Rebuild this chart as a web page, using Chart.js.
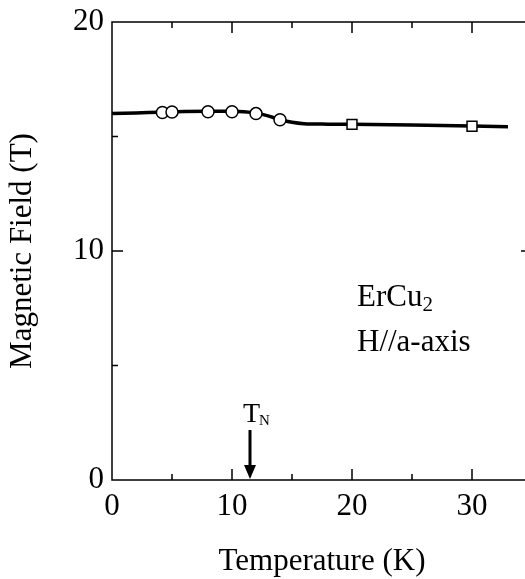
<!DOCTYPE html>
<html>
<head>
<meta charset="utf-8">
<script src="https://cdn.jsdelivr.net/npm/chart.js@4"></script>
<style>
  body { margin: 0; background: #fff; }
  #wrap { width: 525px; height: 579px; overflow: hidden; position: relative; }
  canvas { position: absolute; left: 0; top: 0; }
</style>
</head>
<body>
<div id="wrap"><canvas id="chart" width="545" height="579"></canvas></div>
<script>
// smooth guide curve through the points
const curveT = [0, 2, 4, 6, 8, 10, 11, 12, 13, 14, 15, 16, 18, 20, 25, 30, 33];
const curveH = [16.0, 16.03, 16.06, 16.09, 16.1, 16.1, 16.08, 16.02, 15.9, 15.74, 15.62, 15.56, 15.54, 15.53, 15.5, 15.46, 15.43];
// circles (one measurement), squares (other)
const circleT = [4.2, 5.0, 8.0, 10.0, 12.0, 14.0];
const circleH = [16.05, 16.07, 16.08, 16.08, 16.0, 15.73];
const squareT = [20, 30];
const squareH = [15.53, 15.45];
// axes
const xTickVals = [5, 10, 15, 20, 25, 30];
const yTickVals = [5, 10, 15];
const TN = 11.5;

const FONT = "'Liberation Serif', 'Times New Roman', serif";
Chart.defaults.font.family = FONT;
Chart.defaults.color = '#000';

const pts = (xs, ys) => xs.map((v, i) => ({ x: v, y: ys[i] }));

const frame = {
  id: 'frame',
  beforeDatasetsDraw(chart) {
    const { ctx, chartArea: a, scales: { x, y } } = chart;
    ctx.save();
    ctx.strokeStyle = '#000';
    ctx.lineWidth = 1.5;
    ctx.strokeRect(a.left, a.top, a.right - a.left, a.bottom - a.top);
    ctx.beginPath();
    xTickVals.forEach(v => {
      const len = v % 10 === 0 ? 11 : 6;
      const px = x.getPixelForValue(v);
      ctx.moveTo(px, a.bottom); ctx.lineTo(px, a.bottom - len);
      ctx.moveTo(px, a.top); ctx.lineTo(px, a.top + len);
    });
    yTickVals.forEach(v => {
      const len = v % 10 === 0 ? 11 : 6;
      const py = y.getPixelForValue(v);
      ctx.moveTo(a.left, py); ctx.lineTo(a.left + len, py);
      ctx.moveTo(a.right, py); ctx.lineTo(a.right - len, py);
    });
    ctx.stroke();
    ctx.restore();
  },
  afterDraw(chart) {
    const { ctx, chartArea: a, scales: { x } } = chart;
    ctx.save();
    ctx.fillStyle = '#000';
    ctx.textBaseline = 'alphabetic';
    // sample label
    ctx.font = '31px ' + FONT;
    ctx.fillText('ErCu', a.left + 245, 306);
    const w = ctx.measureText('ErCu').width;
    ctx.font = '21px ' + FONT;
    ctx.fillText('2', a.left + 245 + w, 311);
    ctx.font = '31px ' + FONT;
    ctx.fillText('H//a-axis', a.left + 245, 351);
    // T_N arrow
    const px = x.getPixelForValue(TN);
    ctx.font = '28px ' + FONT;
    ctx.fillText('T', px - 7, 422);
    const tw = ctx.measureText('T').width;
    ctx.font = '15px ' + FONT;
    ctx.fillText('N', px - 7 + tw - 1, 425);
    ctx.strokeStyle = '#000';
    ctx.lineWidth = 3;
    ctx.beginPath();
    ctx.moveTo(px, 430); ctx.lineTo(px, 468);
    ctx.stroke();
    ctx.beginPath();
    ctx.moveTo(px - 6, 465); ctx.lineTo(px + 6, 465); ctx.lineTo(px, a.bottom - 1);
    ctx.closePath();
    ctx.fill();
    ctx.restore();
  }
};

new Chart(document.getElementById('chart').getContext('2d'), {
  type: 'scatter',
  data: {
    datasets: [
      {
        data: pts(circleT, circleH), pointStyle: 'circle', pointRadius: 6,
        backgroundColor: '#fff', borderColor: '#000', borderWidth: 1.5, order: 1
      },
      {
        data: pts(squareT, squareH), pointStyle: 'rect', pointRadius: 7,
        backgroundColor: '#fff', borderColor: '#000', borderWidth: 1.5, order: 1
      },
      {
        data: pts(curveT, curveH), showLine: true, pointRadius: 0,
        borderColor: '#000', borderWidth: 3.5, cubicInterpolationMode: 'monotone', order: 2
      }
    ]
  },
  options: {
    responsive: false,
    animation: false,
    devicePixelRatio: 1,
    layout: { padding: { top: 22, right: 13, bottom: 0, left: 0 } },
    plugins: { legend: { display: false }, tooltip: { enabled: false } },
    scales: {
      x: {
        type: 'linear', min: 0, max: 35,
        ticks: { stepSize: 10, padding: 8, font: { size: 31 }, color: '#000', maxRotation: 0 },
        afterBuildTicks: s => { s.ticks = s.ticks.filter(t => t.value % 10 === 0); },
        afterFit: s => { s.height = 99; },
        grid: { display: false, drawTicks: false },
        border: { display: false },
        title: { display: true, text: 'Temperature (K)', font: { size: 31, lineHeight: 1.1 }, color: '#000', padding: { top: 0, bottom: 0 } }
      },
      y: {
        type: 'linear', min: 0, max: 20,
        ticks: { stepSize: 10, padding: 8, font: { size: 31, lineHeight: 1.0 }, color: '#000' },
        afterFit: s => { s.width = 112; s.paddingTop = 0; },
        grid: { display: false, drawTicks: false },
        border: { display: false },
        title: { display: true, text: 'Magnetic Field (T)', font: { size: 31, lineHeight: 1.1 }, color: '#000', padding: { top: 6, bottom: 0 } }
      }
    }
  },
  plugins: [frame]
});
</script>
</body>
</html>
